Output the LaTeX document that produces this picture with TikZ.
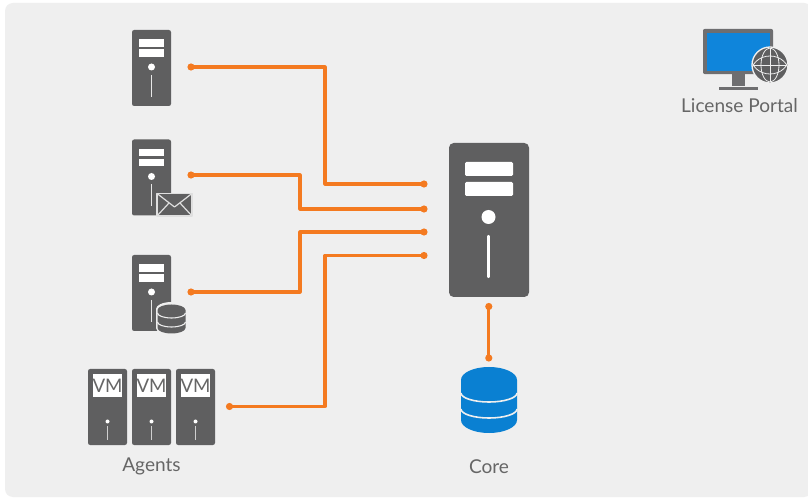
\documentclass[tikz,border=0pt]{standalone}
\usepackage{fontspec}
\setmainfont{Lato}
\begin{document}
\begin{tikzpicture}[x=0.75pt,y=-0.75pt,line join=round]
\definecolor{panel}{HTML}{EFEFEF}
\definecolor{srv}{HTML}{5F5F60}
\definecolor{wire}{HTML}{F47A20}
\definecolor{dbblue}{HTML}{0A80D2}
\definecolor{scr}{HTML}{0F85DB}
\definecolor{lab}{HTML}{666666}
\definecolor{frm}{HTML}{6E6E70}
\tikzset{
  tower/.style={fill=srv,rounded corners=1.6pt,inner sep=0pt,minimum width=29.25pt,minimum height=57pt},
  bigtower/.style={fill=srv,rounded corners=3.5pt,inner sep=0pt,minimum width=60pt,minimum height=115.5pt},
  dot/.style={circle,fill=wire,inner sep=0pt,minimum size=5.4pt},
  wirepath/.style={draw=wire,line width=2.3pt},
  lbl/.style={text=lab,font=\fontsize{14.3}{16}\selectfont,inner sep=0pt},
  vmtxt/.style={text=lab,font=\fontsize{14}{14}\selectfont,inner sep=0pt}
}
\newcommand{\towermarks}[2]{% centre x, top y (small tower)
  \fill[white] (#1-12.5,#2+9.5) rectangle (#1+12.5,#2+17);
  \fill[white] (#1-12.5,#2+19.5) rectangle (#1+12.5,#2+27);
  \fill[white] (#1,#2+37) circle[radius=3.5];
  \draw[white!85!srv,line width=1pt] (#1,#2+45) -- (#1,#2+67);
}
\useasboundingbox (0,0) rectangle (808,499);
\fill[white] (0,0) rectangle (808,499);
\fill[panel,rounded corners=6pt] (5,3) rectangle (812,497);

% servers
\node[tower] (s1) at (151.5,68) {};
\towermarks{151.5}{30}
\node[tower] (s2) at (151.5,177.5) {};
\towermarks{151.5}{139.5}
\node[tower] (s3) at (151.5,293) {};
\towermarks{151.5}{255}
\node[bigtower] (core) at (489,220) {};
\fill[white,rounded corners=1pt] (465,162) rectangle (513,176);
\fill[white,rounded corners=1pt] (465,182) rectangle (513,196);
\fill[white] (488.5,217) circle[radius=7];
\draw[white,line width=1.6pt,line cap=round] (488.5,236) -- (488.5,277);

% envelope
\fill[srv,draw=white!80!srv,line width=.8pt] (157,193.5) rectangle (192,216);
\draw[white!80!srv,line width=.9pt] (157,193.5) -- (174.5,207) -- (192,193.5);
\draw[white!80!srv,line width=.9pt] (157,216) -- (169,203);
\draw[white!80!srv,line width=.9pt] (192,216) -- (180,203);

% small database
\fill[panel] (156,309) -- (156,328) arc[start angle=180,end angle=360,x radius=15.5,y radius=-7] -- (187,309) arc[start angle=0,end angle=180,x radius=15.5,y radius=-7] -- cycle;
\fill[srv] (157.5,310) -- (157.5,328) arc[start angle=180,end angle=360,x radius=14,y radius=-5.5] -- (185.5,310) arc[start angle=0,end angle=180,x radius=14,y radius=-5.5] -- cycle;
\draw[panel,line width=.8pt] (157.5,313) arc[start angle=180,end angle=360,x radius=14,y radius=-5];
\draw[panel,line width=.8pt] (157.5,322) arc[start angle=180,end angle=360,x radius=14,y radius=-5];

% VMs
\foreach \nm/\cx in {v1/107.5,v2/151.5,v3/195.5}{
  \node[tower] (\nm) at (\cx,407) {};
  \fill[white] (\cx-14.5,374) rectangle (\cx+14.5,397);
  \node[vmtxt] at (\cx,386) {VM};
  \fill[white] (\cx,421.5) circle[radius=2];
  \draw[white!70!srv,line width=1pt] (\cx,426) -- (\cx,440);
}

% core database
\fill[dbblue] (461,380) -- (461,420) arc[start angle=180,end angle=360,x radius=28,y radius=-13] -- (517,380) arc[start angle=0,end angle=180,x radius=28,y radius=-13] -- cycle;
\draw[panel,line width=1.2pt] (461,393) arc[start angle=180,end angle=360,x radius=28,y radius=-9];
\draw[panel,line width=1.2pt] (461,409) arc[start angle=180,end angle=360,x radius=28,y radius=-9];

% connectors
\node[dot] (a1) at (191,67) {};
\node[dot] (a2) at (191,175) {};
\node[dot] (a3) at (191,292) {};
\node[dot] (a4) at (229.5,406.5) {};
\node[dot] (b1) at (424,184) {};
\node[dot] (b2) at (424,209) {};
\node[dot] (b3) at (424,232) {};
\node[dot] (b4) at (424,255.5) {};
\node[dot] (c1) at (488.8,306.5) {};
\node[dot] (c2) at (488.8,358) {};
\draw[wirepath] (a1.center) -- (325,67) -- (325,184) -- (b1.center);
\draw[wirepath] (a2.center) -- (300,175) -- (300,209) -- (b2.center);
\draw[wirepath] (a3.center) -- (300,292) -- (300,232) -- (b3.center);
\draw[wirepath] (a4.center) -- (325,406.5) -- (325,255.5) -- (b4.center);
\draw[wirepath] (c1.center) -- (c2.center);

% monitor
\node[fill=frm,rounded corners=1.5pt,inner sep=0pt,minimum width=52.5pt,minimum height=34pt] (mon) at (738,51.5) {};
\fill[scr] (706.5,33) rectangle (770,71);
\fill[frm] (732,74) rectangle (745,86);
\fill[frm] (719,87) rectangle (758,90);
\fill[srv,draw=panel,line width=1pt] (770,65) circle[radius=18];
\begin{scope}
\clip (770,65) circle[radius=17];
\draw[panel,line width=.6pt] (770,48) -- (770,82);
\draw[panel,line width=.6pt] (770,65) ellipse[x radius=9,y radius=17];
\draw[panel,line width=.6pt] (753,65) -- (787,65);
\draw[panel,line width=.6pt] (770,73) ellipse[x radius=19,y radius=17];
\draw[panel,line width=.6pt] (770,57) ellipse[x radius=19,y radius=17];
\end{scope}

% labels
\node[lbl] (tagents) at (151.5,466) {Agents};
\node[lbl] (tcore) at (489,467) {Core};
\node[lbl] (tlp) at (739.5,106) {License Portal};
\end{tikzpicture}
\end{document}
